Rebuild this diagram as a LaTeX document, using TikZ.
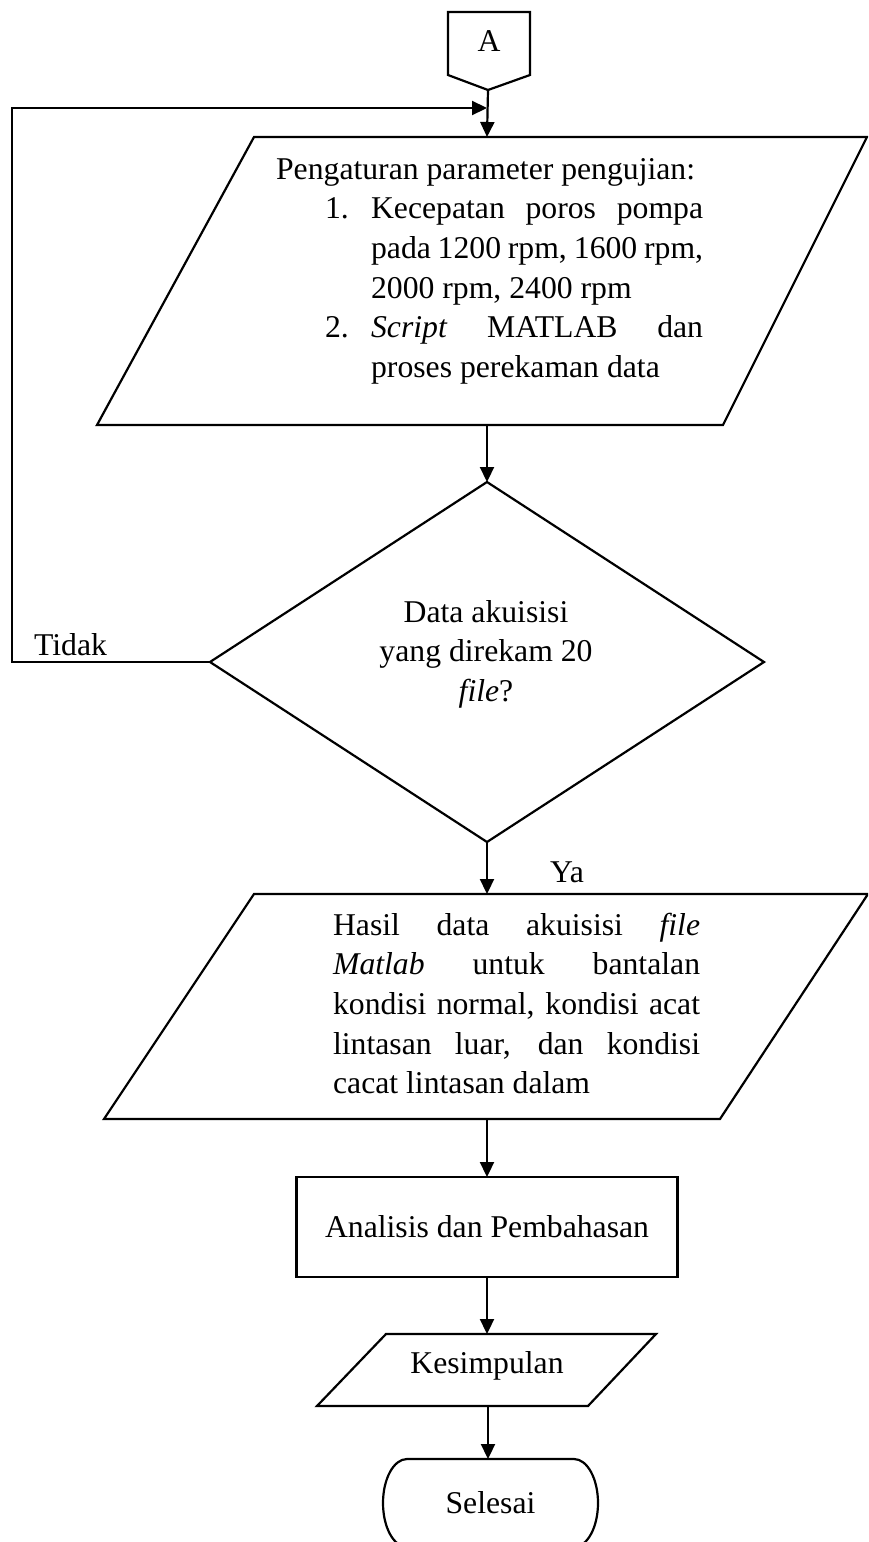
\documentclass[tikz,border=0pt]{standalone}
\usepackage{fontspec}
\setmainfont{Liberation Serif}
\usetikzlibrary{arrows.meta,shapes.geometric}
\newcommand{\fitline}[2]{\makebox[#1][s]{#2}}
\begin{document}
\begin{tikzpicture}[x=1pt,y=-1pt,line width=2.2pt,font=\fontsize{31.7}{39.7}\selectfont,
  arr/.style={-{Triangle[length=15pt,width=14pt]}},
  txt/.style={inner sep=0pt,anchor=base west,text width=600pt,align=flush left}]
\useasboundingbox (0,0) rectangle (868,1542);
\clip (0,0) rectangle (868,1542);
\draw (448,12) -- (530,12) -- (530,75) -- (488,90) -- (448,75) -- cycle;
\node[inner sep=0pt] (A) at (489,41) {A};
\coordinate (Atip) at (488,90);
\coordinate (join) at (487,108);
\coordinate (loop) at (12,108);
\draw (254,137) -- (867,137) -- (723,425) -- (97,425) -- cycle;
\coordinate (p1in) at (487,137);
\coordinate (p1out) at (487,425);
\node[txt] (p1text) at (275,179) {Pengaturan parameter pengujian:\\
  \hspace*{49pt}\makebox[46pt][l]{1.}\fitline{332pt}{Kecepatan poros pompa}\\
  \hspace*{95pt}\fitline{332pt}{pada 1200 rpm, 1600 rpm,}\\
  \hspace*{95pt}2000 rpm, 2400 rpm\\
  \hspace*{49pt}\makebox[46pt][l]{2.}\fitline{332pt}{\textit{Script} MATLAB dan}\\
  \hspace*{95pt}proses perekaman data};
\node[draw,diamond,minimum width=554pt,minimum height=360pt,inner sep=0pt,outer sep=0pt] (check) at (487,662) {};
\node[inner sep=0pt,anchor=base,text width=300pt,align=flush center] (checktext) at (486,622) {Data akuisisi\\yang direkam 20\\\textit{file}?};
\node[inner sep=0pt,anchor=base west] (tidak) at (33,655) {Tidak};
\node[inner sep=0pt,anchor=base west] (ya) at (549,882) {Ya};
\draw (254,894) -- (868,894) -- (720,1119) -- (104,1119) -- cycle;
\coordinate (p2in) at (487,894);
\coordinate (p2out) at (487,1119);
\node[txt] (p2text) at (332,935) {\fitline{367pt}{Hasil data akuisisi \textit{file}}\\
  \fitline{367pt}{\textit{Matlab} untuk bantalan}\\
  \fitline{367pt}{kondisi normal, kondisi acat}\\
  \fitline{367pt}{lintasan luar, dan kondisi}\\
  cacat lintasan dalam};
\node[draw,minimum width=381pt,minimum height=100pt,inner sep=0pt,outer sep=0pt] (analisis) at (487,1227) {Analisis dan Pembahasan};
\draw (386,1334) -- (656,1334) -- (588,1406) -- (317,1406) -- cycle;
\coordinate (kin) at (487,1334);
\coordinate (kout) at (488,1406);
\node[inner sep=0pt,anchor=base] (kesimpulan) at (487,1373) {Kesimpulan};
\node[minimum width=215pt,minimum height=88pt,inner sep=0pt,outer sep=0pt] (selesai) at (490.5,1503) {Selesai};
\draw ([xshift=24pt]selesai.north west) -- ([xshift=-24pt]selesai.north east)
  arc[start angle=90,end angle=-90,x radius=24pt,y radius=44pt]
  -- ([xshift=24pt]selesai.south west)
  arc[start angle=270,end angle=90,x radius=24pt,y radius=44pt];
\draw[arr] (Atip) -- (p1in);
\draw[arr] (check.west) -| (loop) -- (join);
\draw[arr] (p1out) -- (check.north);
\draw[arr] (check.south) -- (p2in);
\draw[arr] (p2out) -- (analisis.north);
\draw[arr] (analisis.south) -- (kin);
\draw[arr] (kout) -- (kout |- selesai.north);
\end{tikzpicture}
\end{document}
